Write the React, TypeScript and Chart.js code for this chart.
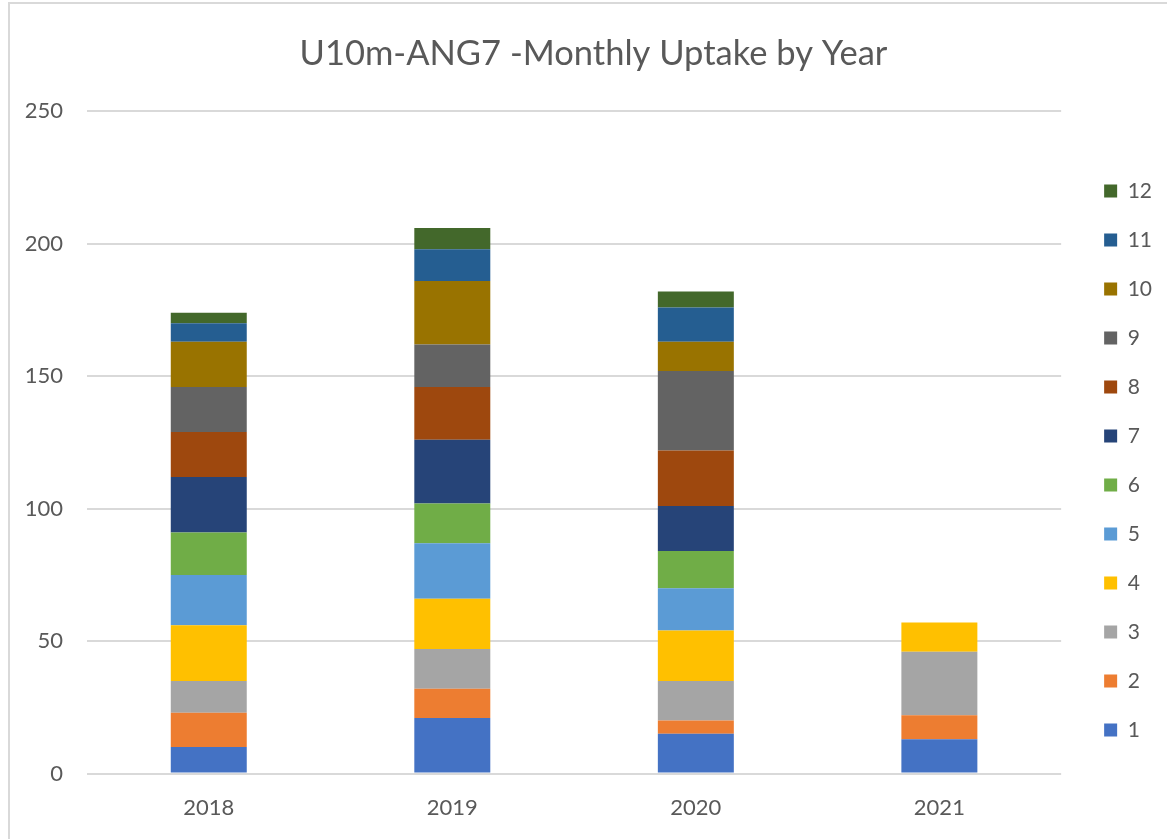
import React, { useEffect, useRef } from "react";
import { Chart, registerables } from "chart.js";

Chart.register(...registerables);

const years = ["2018", "2019", "2020", "2021"];
const monthNames = ["1", "2", "3", "4", "5", "6", "7", "8", "9", "10", "11", "12"];

const month1 = [10, 21, 15, 13];
const month2 = [13, 11, 5, 9];
const month3 = [12, 15, 15, 24];
const month4 = [21, 19, 19, 11];
const month5 = [19, 21, 16, null];
const month6 = [16, 15, 14, null];
const month7 = [21, 24, 17, null];
const month8 = [17, 20, 21, null];
const month9 = [17, 16, 30, null];
const month10 = [17, 24, 11, null];
const month11 = [7, 12, 13, null];
const month12 = [4, 8, 6, null];

const monthSeries = [month1, month2, month3, month4, month5, month6, month7, month8, month9, month10, month11, month12];

const monthColors = [
  "#4472C4", "#ED7D31", "#A5A5A5", "#FFC000", "#5B9BD5", "#70AD47",
  "#264478", "#9E480E", "#636363", "#997300", "#255E91", "#43682B",
];

const yTicks = [0, 50, 100, 150, 200, 250];

const titleText = "U10m-ANG7 -Monthly Uptake by Year";
const FONT = "Lato";
const TEXT = "#595959";

export default function App() {
  const ref = useRef<HTMLCanvasElement | null>(null);

  useEffect(() => {
    if (!ref.current) return;
    const chart = new Chart(ref.current, {
      type: "bar",
      data: {
        labels: years,
        datasets: monthSeries.map((vals, i) => ({
          label: monthNames[i],
          data: vals,
          backgroundColor: monthColors[i],
          borderWidth: 0,
          categoryPercentage: 1,
          barPercentage: 0.312,
        })),
      },
      options: {
        responsive: false,
        animation: false,
        layout: { padding: { top: 0, left: 25, right: 5, bottom: -3 } },
        plugins: {
          title: {
            display: true,
            text: titleText,
            color: TEXT,
            font: { family: FONT, size: 34.5, weight: "normal" },
            padding: { top: 33, bottom: 37 },
          },
          legend: {
            position: "right",
            reverse: true,
            title: {
              display: true,
              text: "",
              font: { family: FONT, size: 10, lineHeight: 1 },
              padding: { top: 69, bottom: 0 },
            },
            labels: {
              boxWidth: 13,
              boxHeight: 13,
              padding: 28,
              color: TEXT,
              font: { family: FONT, size: 21 },
            },
          },
          tooltip: { enabled: false },
        },
        scales: {
          x: {
            stacked: true,
            grid: { display: false, drawTicks: false },
            border: { display: false },
            ticks: {
              color: TEXT,
              font: { family: FONT, size: 22 },
              padding: 21,
            },
          },
          y: {
            stacked: true,
            min: 0,
            max: 250,
            afterFit: (s: any) => {
              s.width = 62;
            },
            afterBuildTicks: (s: any) => {
              s.ticks = yTicks.map((v) => ({ value: v }));
            },
            grid: { color: "#D9D9D9", lineWidth: 2, drawTicks: false },
            border: { display: false },
            ticks: {
              color: TEXT,
              font: { family: FONT, size: 22 },
              padding: 24,
            },
          },
          y2: {
            type: "linear",
            position: "right",
            display: true,
            grid: { display: false, drawTicks: false },
            border: { display: false },
            ticks: { display: false },
            afterFit: (s: any) => {
              s.width = 15;
            },
          },
        },
      },
    });
    return () => chart.destroy();
  }, []);

  return (
    <div style={{ position: "fixed", left: 0, top: 0, width: 1167, height: 839, overflow: "hidden", background: "#fff" }}>
      <div
        style={{
          position: "absolute",
          left: 8,
          top: 2,
          width: 2000,
          height: 2000,
          border: "2px solid #D9D9D9",
          boxSizing: "border-box",
        }}
      />
      <canvas ref={ref} width={1167} height={839} style={{ position: "absolute", left: 0, top: 0 }} />
    </div>
  );
}
